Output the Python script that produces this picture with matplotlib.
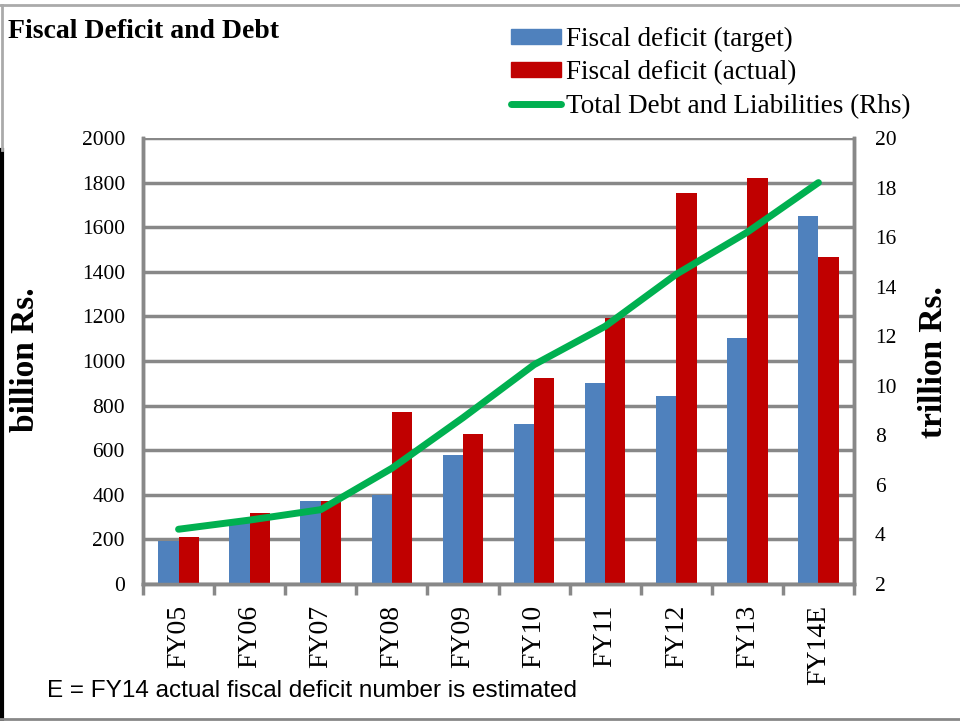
import matplotlib
matplotlib.use("Agg")
import matplotlib.pyplot as plt
import numpy as np
from matplotlib.lines import Line2D
from matplotlib.patches import Patch

# Values
years = ["FY05", "FY06", "FY07", "FY08", "FY09", "FY10", "FY11", "FY12", "FY13", "FY14E"]
deficit_target = [195, 273, 371, 397, 577, 717, 902, 842, 1105, 1648]
deficit_actual = [213, 317, 371, 771, 674, 925, 1195, 1752, 1821, 1467]
total_debt = [4.21, 4.58, 5.0, 6.67, 8.71, 10.85, 12.4, 14.5, 16.2, 18.2]

BLUE = "#4F81BD"
RED = "#C00000"
GREEN = "#00B050"
GRID = "#888888"
SERIF = "Liberation Serif"

fig = plt.figure(figsize=(9.6, 7.21), dpi=100)
ax = fig.add_axes([143 / 960, 1 - 584 / 721, (854 - 143) / 960, (584 - 138) / 721])
ax2 = ax.twinx()

x = np.arange(len(years))
w = 0.285
ax.bar(x - w / 2, deficit_target, w, color=BLUE, zorder=3)
ax.bar(x + w / 2, deficit_actual, w, color=RED, zorder=3)
ax2.plot(x, total_debt, color=GREEN, lw=5, solid_capstyle="round", zorder=4)

ax.set_xlim(-0.5, len(years) - 0.5)
ax.set_ylim(0, 2000)
ax.set_yticks(range(0, 2001, 200))
ax2.set_ylim(2, 20)
ax2.set_yticks(range(2, 21, 2))

ax.grid(axis="y", color=GRID, lw=2.5, zorder=0)
ax.set_axisbelow(True)

for a in (ax, ax2):
    for s in a.spines.values():
        s.set_color(GRID)
        s.set_linewidth(2.5)
ax.spines["top"].set_visible(False)
ax2.spines["top"].set_visible(False)

# category labels at centres, tick marks at the group boundaries
ax.set_xticks(x)
ax.set_xticklabels(years, rotation=90, fontsize=20, family=SERIF)
ax.set_xticks(np.arange(-0.5, len(years), 1), minor=True)
ax.tick_params(axis="x", which="major", length=0, pad=15)
ax.tick_params(axis="x", which="minor", length=8, width=2.5, color=GRID)
ax.tick_params(axis="y", length=0, pad=13, labelsize=15.5)
ax2.tick_params(axis="y", length=0, pad=15, labelsize=15.5)
for lbl in ax.get_yticklabels() + ax2.get_yticklabels():
    lbl.set_family(SERIF)

# axis titles placed directly
fig.text(26 / 960, 1 - 360 / 721, "billion Rs.", family=SERIF, fontsize=24,
         fontweight="bold", rotation=90, va="center", ha="center")
fig.text(933 / 960, 1 - 362 / 721, "trillion Rs.", family=SERIF, fontsize=24,
         fontweight="bold", rotation=90, va="center", ha="center")

fig.text(8 / 960, 1 - 31 / 721, "Fiscal Deficit and Debt", family=SERIF,
         fontsize=20, fontweight="bold", va="center", ha="left")

handles = [Patch(color=BLUE), Patch(color=RED), Line2D([], [], color=GREEN, lw=5, solid_capstyle="round")]
labels = ["Fiscal deficit (target)", "Fiscal deficit (actual)", "Total Debt and Liabilities (Rhs)"]
fig.legend(handles, labels, loc="upper left", bbox_to_anchor=(500 / 960, 1 - 16 / 721),
           frameon=False, prop={"family": SERIF, "size": 19.5}, handlelength=1.85,
           handleheight=0.5, handletextpad=0.2, labelspacing=0.31, borderaxespad=0)

fig.text(47 / 960, 1 - 691 / 721, "E = FY14 actual fiscal deficit number is estimated",
         family="Liberation Sans", fontsize=17.5, va="center", ha="left")

# outer frame of the picture
fig.add_artist(Line2D([0.002, 0.002], [0, 1 - 150 / 721], transform=fig.transFigure, color="black", lw=3))
fig.add_artist(Line2D([0.002, 0.002], [1 - 150 / 721, 1 - 5 / 721], transform=fig.transFigure, color="#aaaaaa", lw=2))
fig.add_artist(Line2D([0, 1], [1 - 5 / 721, 1 - 5 / 721], transform=fig.transFigure, color="#aaaaaa", lw=2))
fig.add_artist(Line2D([0, 1], [1 - 719 / 721, 1 - 719 / 721], transform=fig.transFigure, color="#888888", lw=2))

fig.savefig("out.png", dpi=100)
